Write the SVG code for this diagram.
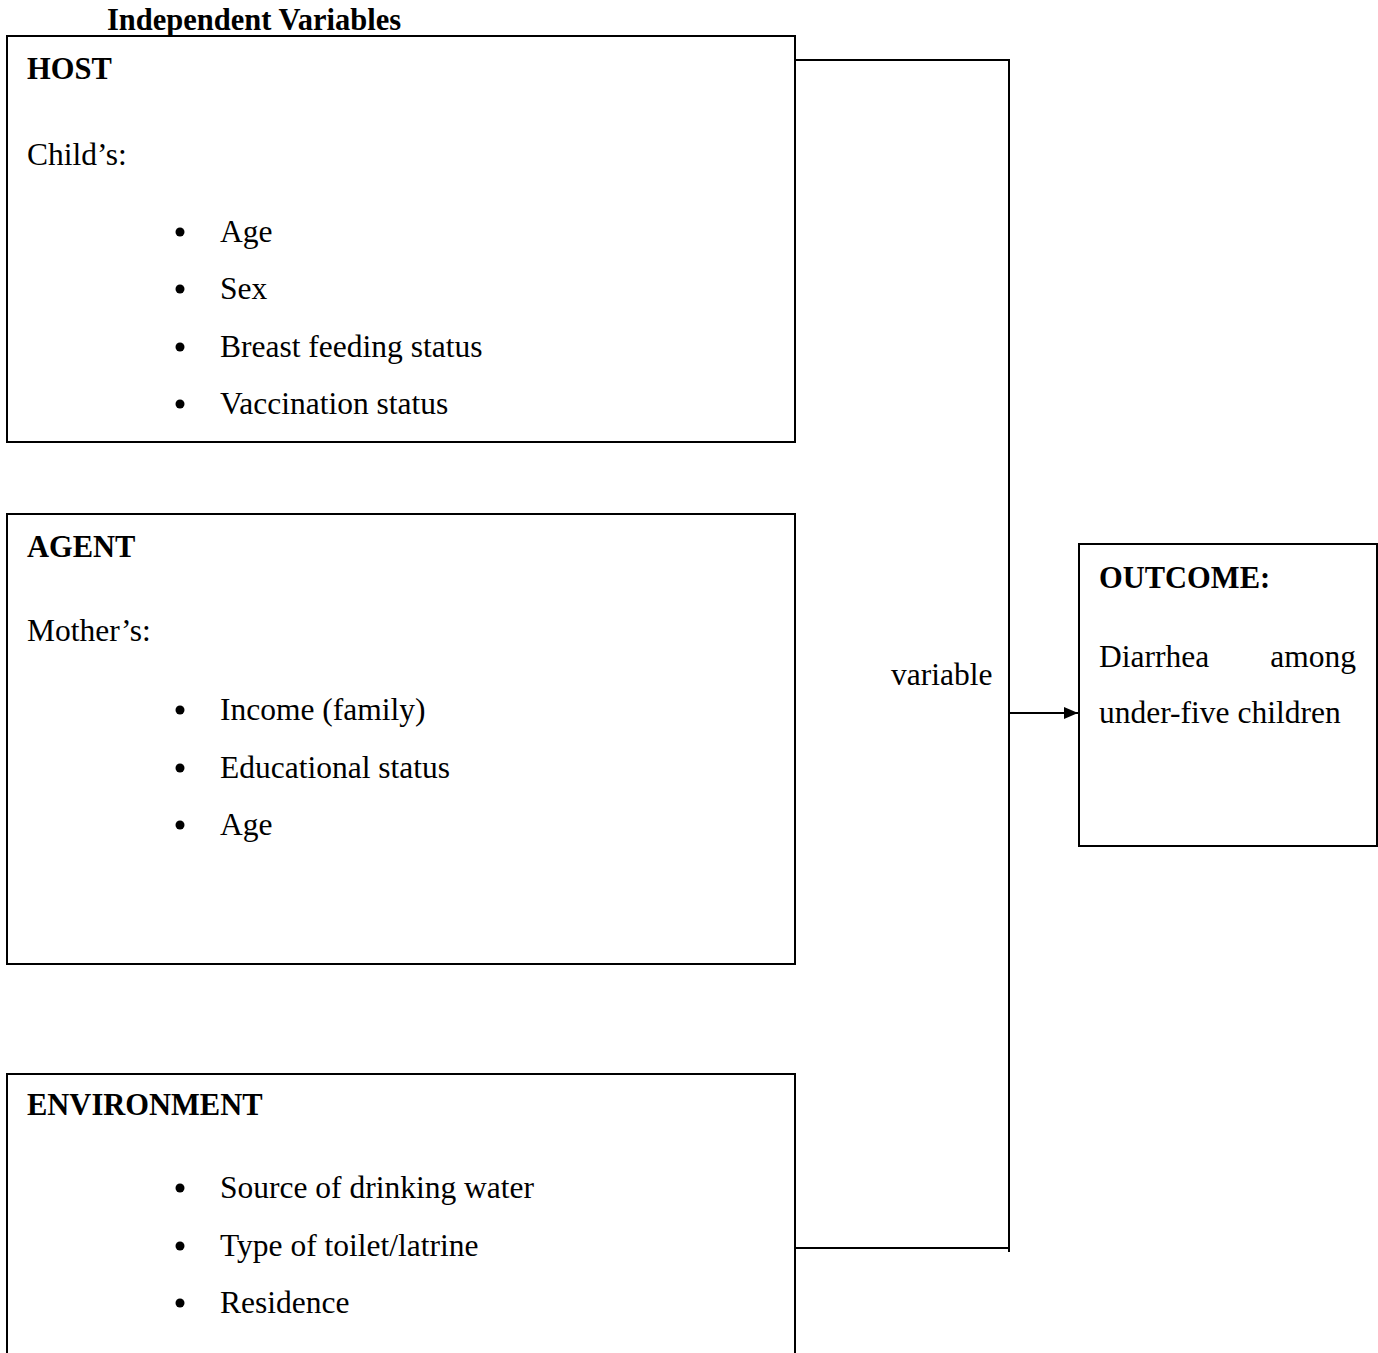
<svg xmlns="http://www.w3.org/2000/svg" width="1378" height="1353" viewBox="0 0 1378 1353">
<style>
text{font-family:"Liberation Serif","Times New Roman",serif;font-size:31.5px;fill:#000}
.b{font-weight:bold;font-size:30.5px}
.box{fill:#fff;stroke:#000;stroke-width:2}
.ln{fill:none;stroke:#000;stroke-width:2}
.dot{fill:#000}
</style>
<defs>
<marker id="ah" markerWidth="14" markerHeight="12" refX="14" refY="6" orient="auto" markerUnits="userSpaceOnUse">
<path d="M0,0 L14,6 L0,12 z" fill="#000"/>
</marker>
</defs>
<rect width="1378" height="1353" fill="#fff"/>
<text class="b" x="107" y="30">Independent Variables</text>
<g id="connectors">
<path class="ln" d="M795,60 H1009 V1252"/>
<path class="ln" d="M795,1248 H1009"/>
<path class="ln" d="M1009,713 H1078" marker-end="url(#ah)"/>
</g>
<g id="host">
<rect class="box" x="7" y="36" width="788" height="406"/>
<text class="b" x="27" y="79">HOST</text>
<text x="27" y="165">Child’s:</text>
<circle class="dot" cx="180" cy="232" r="4.5"/><text x="220" y="242">Age</text>
<circle class="dot" cx="180" cy="289" r="4.5"/><text x="220" y="299">Sex</text>
<circle class="dot" cx="180" cy="347" r="4.5"/><text x="220" y="357">Breast feeding status</text>
<circle class="dot" cx="180" cy="404" r="4.5"/><text x="220" y="414">Vaccination status</text>
</g>
<g id="agent">
<rect class="box" x="7" y="514" width="788" height="450"/>
<text class="b" x="27" y="557">AGENT</text>
<text x="27" y="641">Mother’s:</text>
<circle class="dot" cx="180" cy="710" r="4.5"/><text x="220" y="720">Income (family)</text>
<circle class="dot" cx="180" cy="768" r="4.5"/><text x="220" y="778">Educational status</text>
<circle class="dot" cx="180" cy="825" r="4.5"/><text x="220" y="835">Age</text>
</g>
<g id="environment">
<path class="box" d="M7,1360 V1074 H795 V1360"/>
<text class="b" x="27" y="1115">ENVIRONMENT</text>
<circle class="dot" cx="180" cy="1188" r="4.5"/><text x="220" y="1198">Source of drinking water</text>
<circle class="dot" cx="180" cy="1246" r="4.5"/><text x="220" y="1256">Type of toilet/latrine</text>
<circle class="dot" cx="180" cy="1303" r="4.5"/><text x="220" y="1313">Residence</text>
</g>
<g id="variable-label">
<text x="891" y="685">variable</text>
</g>
<g id="outcome">
<rect class="box" x="1079" y="544" width="298" height="302"/>
<text class="b" x="1099" y="588">OUTCOME:</text>
<text x="1099" y="667">Diarrhea</text>
<text x="1356" y="667" text-anchor="end">among</text>
<text x="1099" y="723">under-five children</text>
</g>
</svg>
